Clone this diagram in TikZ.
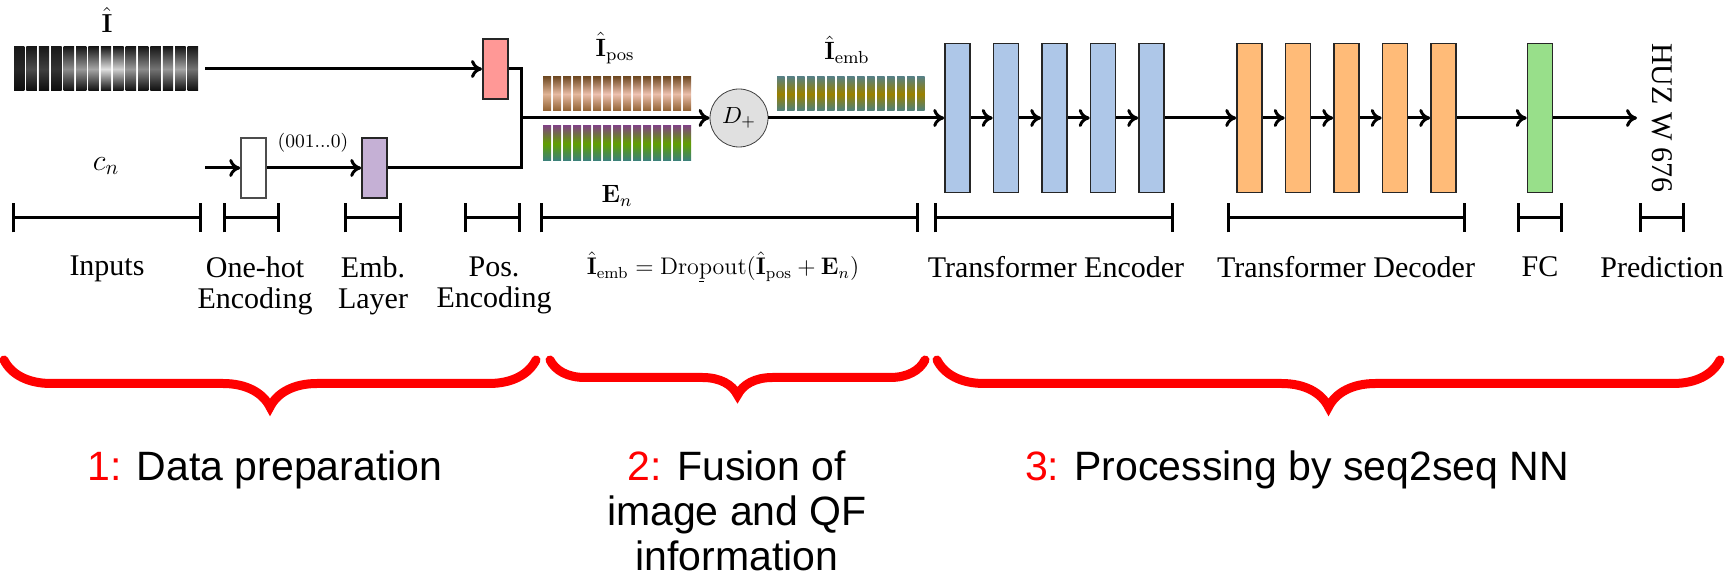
\RequirePackage{fix-cm}
\documentclass[tikz,border=0pt]{standalone}
\usepackage{amsmath}
\usepackage[no-math]{fontspec}
\setmainfont{Liberation Serif}
\newfontfamily\stagefont{Liberation Sans}
\usetikzlibrary{arrows.meta,decorations.pathreplacing}
\definecolor{posred}{HTML}{FF9896}
\definecolor{embviolet}{HTML}{C5B0D5}
\definecolor{encblue}{HTML}{AEC7E8}
\definecolor{decorange}{HTML}{FFBB78}
\definecolor{fcgreen}{HTML}{98DF8A}
\tikzset{
    flowline/.style={line width=1.5pt,line join=miter},
    flowarrow/.style={flowline,-{To[length=5.5pt,width=9pt]}},
    nnblock/.style={draw=black!85,line width=0.8pt,minimum width=12.5pt,minimum height=74.5pt,inner sep=0pt},
    spanbar/.style={line width=1.5pt,{Bar[width=14.5pt]}-{Bar[width=14.5pt]}},
    steplabel/.style={font=\fontsize{15}{15.5}\selectfont,align=center,anchor=north,inner sep=0pt},
    stagelabel/.style={font=\stagefont\fontsize{20.5}{22.5}\selectfont,align=center,anchor=north,inner sep=0pt},
    stagebrace/.style={draw=red,line width=4.5pt,line cap=round,decorate,decoration={brace,mirror,amplitude=#1}},
    strip/.style={inner sep=0pt,minimum width=#1},
}

\begin{document}
\begin{tikzpicture}[x=0.5pt,y=-0.5pt]
    \useasboundingbox (0,0) rectangle (1728,581);

    \node[strip=93pt,minimum height=22pt] (imgI) at (107,69) {};
    \foreach \g [count=\k from 0] in {85,70,75,80,45,40,35,12,18,40,45,55,40,35,55}
        \shade[top color=black!90,bottom color=black!95,middle color=black!\g] ({14+12.4*\k},47) rectangle +(10.4,44);
    \node[strip=74.5pt,minimum height=17pt] (imgpos) at (617.5,94) {};
    \foreach \g [count=\k from 0] in {70,55,50,60,45,40,35,40,45,35,40,45,40,50,45}
        \shade[top color=brown!60!black,bottom color=brown!75!black,middle color=brown!\g!pink!70!white] ({543+10*\k},77) rectangle +(8,34);
    \node[strip=74.5pt,minimum height=17.5pt] (imgE) at (617.5,143.5) {};
    \foreach \k in {0,...,14}
        \shade[top color=violet!45!gray,bottom color=teal!55!gray,middle color=olive!70!green!80!gray] ({543+10*\k},126) rectangle +(8,35);
    \node[strip=73pt,minimum height=17pt] (imgemb) at (850,94) {};
    \foreach \k in {0,...,14}
        \shade[top color=teal!30!gray,bottom color=teal!40!gray,middle color=olive!50!brown!80!gray] ({777+10*\k},77) rectangle +(7.5,34);

    \node[font=\fontsize{13}{15}\selectfont] (lblI) at (107,20) {$\hat{\mathbf{I}}$};
    \node[font=\fontsize{12.5}{14}\selectfont] (lblpos) at (615,48) {$\hat{\mathbf{I}}_{\mathrm{pos}}$};
    \node[font=\fontsize{12.5}{14}\selectfont] (lblemb) at (847,50) {$\hat{\mathbf{I}}_{\mathrm{emb}}$};
    \node[font=\fontsize{12.5}{14}\selectfont] (lblE) at (617,196) {$\mathbf{E}_n$};
    \node[font=\fontsize{15}{17}\selectfont] (cn) at (106,166) {$c_n$};
    \node[font=\fontsize{9.5}{11}\selectfont] (code) at (313,143) {$(001...0)$};

    \node[nnblock,minimum height=30pt,fill=posred,line width=1pt] (posenc) at (495.5,69) {};
    \node[nnblock,minimum height=30pt,fill=white,draw=black!70] (onehot) at (253.5,168) {};
    \node[nnblock,minimum height=30pt,fill=embviolet] (emblayer) at (374.5,168) {};
    \node[circle,draw=black!75,fill=black!12,minimum size=29pt,inner sep=0pt,font=\fontsize{11.7}{14}\selectfont] (dplus) at (739,118) {$D_+$};
    \foreach \i in {1,...,5} {
        \node[nnblock,fill=encblue] (enc\i) at ({957.5+48.5*(\i-1)},118) {};
        \node[nnblock,fill=decorange] (dec\i) at ({1249.5+48.5*(\i-1)},118) {};
    }
    \node[nnblock,fill=fcgreen] (fc) at (1540,118) {};
    \node[rotate=-90,font=\fontsize{15}{15}\selectfont] (pred) at (1662,118) {HUZ W 676};

    \coordinate (cnout) at (205,168);
    \coordinate (jtop) at (521,69);
    \coordinate (jmid) at (521,118);
    \coordinate (jbot) at (521,168);
    \coordinate (predin) at (1637,118);

    \draw[flowarrow,shorten <=2.5pt] (imgI.east) -- (posenc.west);
    \draw[flowarrow] (cnout) -- (onehot.west);
    \draw[flowarrow] (onehot) -- (emblayer);
    \draw[flowline] (posenc.east) -- (jtop) -- (jbot) -- (emblayer.east);
    \draw[flowarrow] (jmid) -- (dplus);
    \draw[flowarrow] (dplus) -- (enc1);
    \foreach \i/\j in {1/2,2/3,3/4,4/5} {
        \draw[flowarrow] (enc\i) -- (enc\j);
        \draw[flowarrow] (dec\i) -- (dec\j);
    }
    \draw[flowarrow] (enc5) -- (dec1);
    \draw[flowarrow] (dec5) -- (fc);
    \draw[flowarrow] (fc) -- (predin);

    \foreach \a/\b in {12/202,223/280,344/402,464/521,540/919,934/1174,1227/1466,1517/1563,1639/1685}
        \draw[spanbar] (\a,218) -- (\b,218);

    \node[steplabel] (lblinputs) at (107,255) {Inputs};
    \node[steplabel] (lblonehot) at (255,256) {One-hot\\Encoding};
    \node[steplabel] (lblemblayer) at (373,256) {Emb.\\Layer};
    \node[steplabel] (lblposenc) at (494,256) {Pos.\\Encoding};
    \node[font=\fontsize{12}{14}\selectfont,anchor=base,inner sep=0pt] (formula) at (723,275)
        {$\hat{\mathbf{I}}_{\mathrm{emb}}=\mathrm{Dro\rlap{\rule[-3.5pt]{2.5pt}{0.5pt}}pout}(\hat{\mathbf{I}}_{\mathrm{pos}}+\mathbf{E}_n)$};
    \node[steplabel] (lblenc) at (1056,256) {Transformer Encoder};
    \node[steplabel] (lbldec) at (1346,256) {Transformer Decoder};
    \node[steplabel] (lblfc) at (1540,256) {FC};
    \node[steplabel] (lblpred) at (1662,256) {Prediction};

    \draw[stagebrace=23.5pt] (4,360) -- (536,360);
    \draw[stagebrace=17.5pt] (550,360) -- (925,360);
    \draw[stagebrace=23.5pt] (937,360) -- (1720,360);

    \node[stagelabel] (stage1) at (265,450) {\textcolor{red}{1:} Data preparation};
    \node[stagelabel] (stage2) at (737,450) {\textcolor{red}{2:} Fusion of\\image and QF\\information};
    \node[stagelabel] (stage3) at (1297,450) {\textcolor{red}{3:} Processing by seq2seq NN};
\end{tikzpicture}
\end{document}
